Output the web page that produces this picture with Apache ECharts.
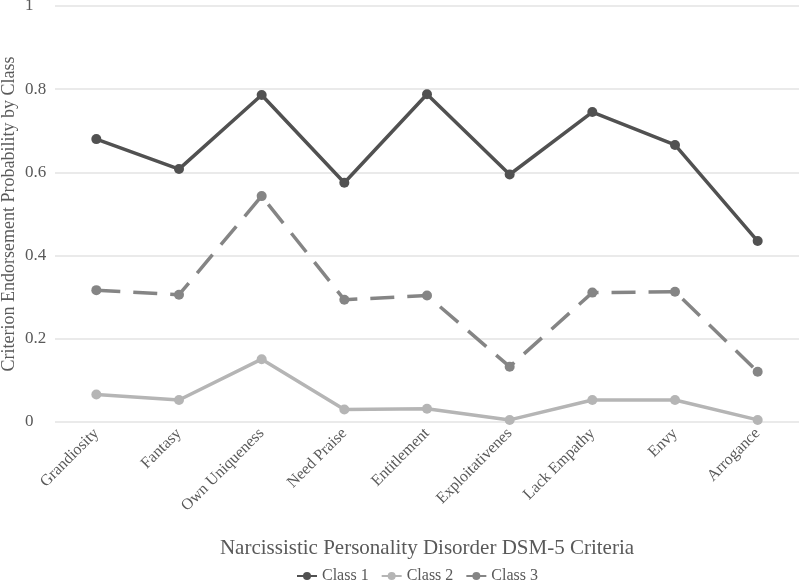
<!DOCTYPE html>
<html>
<head>
<meta charset="utf-8">
<script src="https://cdn.jsdelivr.net/npm/echarts@6/dist/echarts.min.js"></script>
<style>
  html, body { margin: 0; padding: 0; background: #fff; }
  #chart-main { width: 800px; height: 585px; }
</style>
</head>
<body>
<div id="chart-main"></div>
<script>
  // criteria on the x axis
  const criteria = ['Grandiosity', 'Fantasy', 'Own Uniqueness', 'Need Praise', 'Entitlement',
    'Exploitativenes', 'Lack Empathy', 'Envy', 'Arrogance'];

  // endorsement probability per class
  const class1 = [0.680, 0.608, 0.786, 0.575, 0.788, 0.595, 0.745, 0.666, 0.435];
  const class2 = [0.066, 0.053, 0.151, 0.030, 0.032, 0.005, 0.053, 0.053, 0.005];
  const class3 = [0.317, 0.306, 0.543, 0.294, 0.304, 0.133, 0.311, 0.313, 0.121];

  const yTicks = [0, 0.2, 0.4, 0.6, 0.8, 1];

  const font = '"Liberation Serif", "Times New Roman", serif';
  const textColor = '#595959';

  const chart = echarts.init(document.getElementById('chart-main'));

  function makeSeries(name, data, color, dashed) {
    return {
      name: name,
      type: 'line',
      data: data,
      symbol: 'circle',
      symbolSize: 10,
      itemStyle: { color: color },
      lineStyle: { color: color, width: 3.5, type: dashed ? [24, 13] : 'solid' },
      emphasis: { disabled: true }
    };
  }

  const option = {
    animation: false,
    textStyle: { fontFamily: font },
    grid: {
      left: 55,
      right: 1,
      top: 6,
      bottom: 163,
      outerBoundsMode: 'none'
    },
    legend: {
      top: 563,
      left: 291,
      itemWidth: 20,
      itemHeight: 10,
      itemGap: 12,
      textStyle: { fontFamily: font, fontSize: 16, color: textColor },
      data: [
        { name: 'Class 1' },
        { name: 'Class 2' },
        { name: 'Class 3', lineStyle: { type: 'solid' } }
      ]
    },
    xAxis: {
      type: 'category',
      data: criteria,
      boundaryGap: true,
      name: 'Narcissistic Personality Disorder DSM-5 Criteria',
      nameLocation: 'middle',
      nameGap: 116,
      nameMoveOverlap: false,
      nameTextStyle: { fontFamily: font, fontSize: 21, color: textColor },
      axisLine: { show: false },
      axisTick: { show: false },
      axisLabel: {
        rotate: 45,
        margin: 9,
        fontFamily: font,
        fontSize: 16,
        color: textColor,
        interval: 0
      }
    },
    yAxis: {
      type: 'value',
      min: 0,
      max: 1,
      interval: 0.2,
      name: 'Criterion Endorsement Probability by Class',
      nameLocation: 'middle',
      nameGap: 37,
      nameMoveOverlap: false,
      nameTextStyle: { fontFamily: font, fontSize: 18, color: textColor },
      axisLine: { show: false },
      axisTick: { show: false },
      splitLine: { lineStyle: { color: '#e3e3e3', width: 1.5 } },
      axisLabel: {
        margin: 30,
        align: 'left',
        fontFamily: font,
        fontSize: 17,
        color: textColor,
        formatter: function (v) {
          const t = yTicks.find(function (k) { return Math.abs(k - v) < 1e-9; });
          return t === undefined ? '' : String(t);
        }
      }
    },
    series: [
      makeSeries('Class 1', class1, '#515151', false),
      makeSeries('Class 2', class2, '#b5b5b5', false),
      makeSeries('Class 3', class3, '#858585', true)
    ]
  };

  chart.setOption(option);
</script>
</body>
</html>
